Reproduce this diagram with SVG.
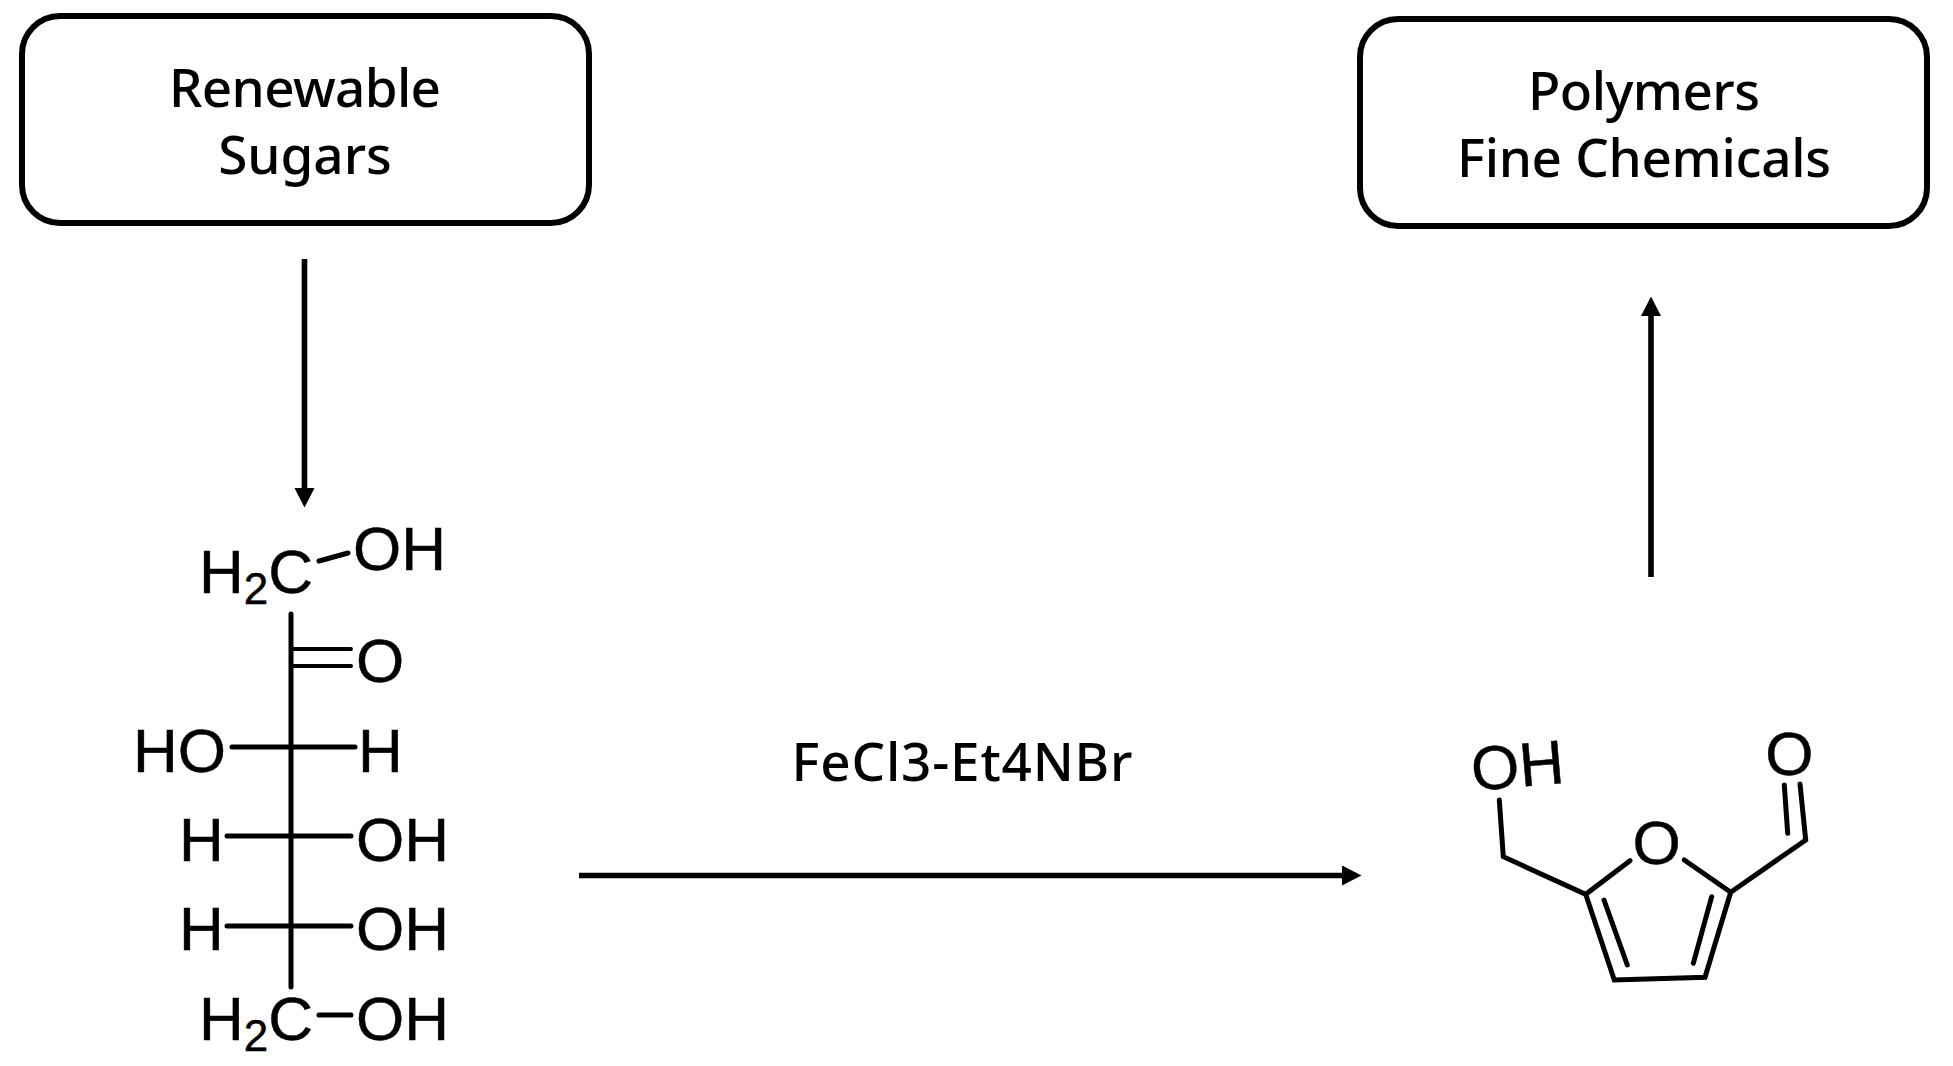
<svg xmlns="http://www.w3.org/2000/svg" width="1953" height="1066" viewBox="0 0 1953 1066">
<style>
.box{fill:#fff;stroke:#000;stroke-width:6}
.lab{font-family:"Noto Sans","Liberation Sans",sans-serif;font-size:53px;font-weight:500;fill:#000;text-anchor:middle}
.chem{font-family:"Liberation Sans",Arial,sans-serif;font-size:62px;fill:#000;stroke:#000;stroke-width:.5}
.sub{font-size:44px}
.bond{stroke:#000;stroke-width:5;fill:none;stroke-linecap:round;stroke-linejoin:miter}
.thin{stroke-width:4}
.conn{stroke:#000;stroke-width:5.600;fill:none}
</style>
<defs>
<marker id="ah" markerUnits="userSpaceOnUse" markerWidth="22" markerHeight="22" refX="1" refY="10" orient="auto">
<path d="M0 0L19.500 10L0 20Z" fill="#000"/>
</marker>
</defs>
<rect width="1953" height="1066" fill="#fff"/>
<g id="connectors">
<line class="conn" x1="304.500" y1="259" x2="304.500" y2="489" marker-end="url(#ah)"/>
<line class="conn" x1="1651" y1="577" x2="1651" y2="315" marker-end="url(#ah)"/>
<line class="conn" x1="579" y1="875.500" x2="1343" y2="875.500" marker-end="url(#ah)"/>
</g>
<g id="node-sugars">
<rect class="box" x="22" y="16" width="567" height="207" rx="38"/>
<text class="lab" x="305" y="107" textLength="272">Renewable</text>
<text class="lab" x="305" y="174">Sugars</text>
</g>
<g id="node-products">
<rect class="box" x="1360" y="19" width="567" height="207" rx="38"/>
<text class="lab" x="1644" y="110" textLength="232">Polymers</text>
<text class="lab" x="1644" y="177" textLength="374">Fine Chemicals</text>
</g>
<g id="node-catalyst">
<text class="lab" x="962" y="781" textLength="341">FeCl3-Et4NBr</text>
</g>
<g id="node-fructose">
<path class="bond" d="M291 614V987M232 747H355M227 836H351M227 926H351M319 1015H351M319 561L348 553"/>
<path class="bond thin" d="M291 649H351M291 666H351"/>
<text class="chem" x="199" y="593">H<tspan class="sub" dy="11">2</tspan><tspan dy="-11">C</tspan></text>
<text class="chem" x="353" y="570">OH</text>
<text class="chem" x="356" y="682">O</text>
<text class="chem" x="133" y="772">HO</text>
<text class="chem" x="358" y="772">H</text>
<text class="chem" x="179" y="861">H</text>
<text class="chem" x="356" y="861">OH</text>
<text class="chem" x="179" y="950">H</text>
<text class="chem" x="356" y="950">OH</text>
<text class="chem" x="199" y="1040">H<tspan class="sub" dy="11">2</tspan><tspan dy="-11">C</tspan></text>
<text class="chem" x="356" y="1040">OH</text>
</g>
<g id="node-hmf">
<path class="bond" d="M1499.300 800L1503.300 856.700L1585.700 894.300L1630 860.700M1585.700 894.300L1614.300 980L1705 977.300L1730.700 892.300L1684.300 860M1730.700 892.300L1805.700 840L1800 784M1787.700 833.300L1784.300 785M1604 900L1627.300 965M1711.700 896.700L1693.300 963.300"/>
<text class="chem" x="1656.700" y="864" text-anchor="middle">O</text>
<text class="chem" x="1789.300" y="775" text-anchor="middle">O</text>
<text class="chem" x="1473" y="791" transform="rotate(-5 1473 791)">OH</text>
</g>
</svg>
